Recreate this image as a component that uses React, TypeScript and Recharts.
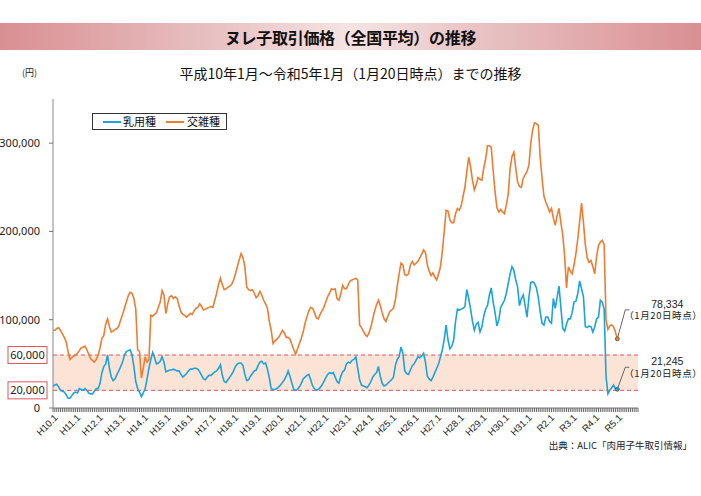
import React from 'react';
import { LineChart, Line, XAxis, YAxis, ReferenceArea, ReferenceLine, ReferenceDot } from 'recharts';

// 年次ラベル（各年1月）
const yearLabels = [
  'H10.1', 'H11.1', 'H12.1', 'H13.1', 'H14.1', 'H15.1', 'H16.1', 'H17.1', 'H18.1', 'H19.1',
  'H20.1', 'H21.1', 'H22.1', 'H23.1', 'H24.1', 'H25.1', 'H26.1', 'H27.1', 'H28.1', 'H29.1',
  'H30.1', 'H31.1', 'R2.1', 'R3.1', 'R4.1', 'R5.1',
];

// 乳用種 (円) 平成10年1月〜令和5年1月
const dairyPrices = [
  25000, 26000, 27000, 24000, 20000, 19000, 18000, 15000, 11000, 11000, 14000, 17000,
  18000, 17000, 22000, 21000, 20000, 22000, 20000, 17000, 16000, 16000, 19000, 22000,
  22000, 28000, 40000, 47000, 50000, 60000, 45000, 35000, 31000, 33000, 38000, 42000,
  47000, 52000, 60000, 64000, 65000, 66000, 60000, 47000, 30000, 22000, 18000, 13000,
  17000, 22000, 33000, 45000, 55000, 63000, 57000, 50000, 51000, 53000, 58000, 52000,
  41000, 42000, 43000, 43000, 44000, 43000, 42000, 42000, 38000, 35000, 37000, 39000,
  42000, 44000, 44000, 45000, 45000, 44000, 41000, 37000, 33000, 32000, 35000, 37000,
  37000, 39000, 41000, 42000, 45000, 49000, 37000, 30000, 29000, 32000, 35000, 38000,
  42000, 47000, 50000, 51000, 51000, 48000, 38000, 31000, 32000, 36000, 39000, 42000,
  43000, 48000, 52000, 53000, 50000, 51000, 44000, 34000, 22000, 21000, 21000, 22000,
  24000, 26000, 29000, 32000, 36000, 42000, 36000, 28000, 21000, 20000, 21000, 24000,
  28000, 33000, 35000, 37000, 38000, 32000, 25000, 22000, 20000, 21000, 23000, 26000,
  30000, 34000, 38000, 40000, 39000, 40000, 35000, 30000, 28000, 36000, 41000, 43000,
  50000, 52000, 51000, 54000, 55000, 58000, 45000, 32000, 26000, 25000, 24000, 23000,
  26000, 30000, 35000, 38000, 40000, 47000, 36000, 28000, 25000, 26000, 28000, 30000,
  32000, 35000, 48000, 55000, 58000, 69000, 62000, 42000, 39000, 38000, 43000, 48000,
  50000, 54000, 58000, 57000, 59000, 62000, 52000, 36000, 33000, 31000, 35000, 40000,
  45000, 50000, 58000, 66000, 78000, 94000, 77000, 67000, 70000, 77000, 98000, 112000,
  111000, 112000, 113000, 115000, 134000, 124000, 112000, 98000, 88000, 95000, 97000, 86000,
  92000, 104000, 112000, 116000, 128000, 136000, 120000, 108000, 93000, 100000, 114000, 118000,
  122000, 130000, 141000, 152000, 160000, 156000, 145000, 137000, 116000, 124000, 128000, 116000,
  103000, 125000, 142000, 143000, 141000, 136000, 125000, 109000, 96000, 94000, 103000, 103000,
  98000, 96000, 124000, 113000, 125000, 138000, 114000, 90000, 87000, 95000, 101000, 101000,
  108000, 120000, 121000, 130000, 144000, 135000, 126000, 92000, 91000, 93000, 92000, 86000,
  92000, 101000, 103000, 122000, 120000, 112000, 36000, 16000, 20000, 23000, 26000, 22000,
  21245,
];

// 交雑種 (円)
const crossPrices = [
  88000, 88000, 90000, 91000, 88000, 84000, 80000, 75000, 64000, 55000, 57000, 59000,
  60000, 62000, 65000, 68000, 69000, 70000, 66000, 61000, 56000, 54000, 52000, 55000,
  60000, 68000, 79000, 82000, 95000, 101000, 92000, 86000, 87000, 89000, 90000, 93000,
  100000, 106000, 113000, 120000, 127000, 131000, 130000, 124000, 112000, 66000, 64000, 34000,
  45000, 58000, 52000, 55000, 105000, 104000, 106000, 108000, 114000, 120000, 133000, 128000,
  107000, 118000, 126000, 127000, 124000, 126000, 124000, 116000, 109000, 106000, 105000, 103000,
  105000, 107000, 106000, 110000, 113000, 114000, 118000, 115000, 111000, 112000, 113000, 114000,
  115000, 114000, 122000, 130000, 140000, 147000, 140000, 134000, 135000, 137000, 138000, 140000,
  145000, 152000, 160000, 168000, 175000, 170000, 160000, 137000, 134000, 133000, 134000, 130000,
  125000, 127000, 132000, 128000, 122000, 118000, 113000, 98000, 88000, 73000, 76000, 78000,
  80000, 84000, 88000, 85000, 80000, 80000, 78000, 72000, 66000, 61000, 67000, 73000,
  79000, 86000, 96000, 103000, 110000, 114000, 113000, 108000, 102000, 101000, 106000, 110000,
  114000, 120000, 126000, 130000, 135000, 134000, 135000, 124000, 122000, 129000, 139000, 135000,
  135000, 140000, 144000, 145000, 146000, 147000, 145000, 94000, 91000, 87000, 83000, 81000,
  85000, 92000, 101000, 110000, 117000, 122000, 116000, 108000, 101000, 98000, 104000, 109000,
  111000, 113000, 122000, 138000, 152000, 164000, 162000, 151000, 150000, 152000, 162000, 166000,
  162000, 164000, 166000, 170000, 174000, 179000, 176000, 162000, 155000, 150000, 153000, 148000,
  145000, 152000, 160000, 178000, 200000, 224000, 223000, 213000, 210000, 210000, 220000, 226000,
  224000, 229000, 240000, 250000, 268000, 284000, 273000, 258000, 247000, 253000, 261000, 259000,
  258000, 272000, 282000, 297000, 297000, 295000, 269000, 245000, 227000, 222000, 225000, 222000,
  220000, 230000, 242000, 271000, 285000, 290000, 272000, 256000, 251000, 250000, 260000, 264000,
  268000, 275000, 300000, 315000, 323000, 322000, 320000, 284000, 260000, 240000, 233000, 228000,
  222000, 226000, 215000, 207000, 218000, 226000, 210000, 196000, 172000, 136000, 160000, 155000,
  152000, 162000, 175000, 192000, 212000, 232000, 210000, 185000, 170000, 165000, 167000, 160000,
  152000, 172000, 184000, 188000, 190000, 185000, 100000, 89000, 93000, 94000, 92000, 86000,
  78334,
];

const yTicks = [0, 20000, 60000, 100000, 200000, 300000];
const boxedTicks = [20000, 60000];
const bandRange = [20000, 60000];
const axisMonthCount = 312; // 軸は令和5年12月まで
const asOfNote = '（1月20日時点）';

const DAIRY = '#1ba3e0';
const CROSS = '#ed7d31';
const BAND_LINE = '#e8505e';

const rows = dairyPrices.map((v, i) => ({ m: i, dairy: v, cross: crossPrices[i] }));
const monthTicks = Array.from({ length: axisMonthCount }, (_, i) => i);
const lastIndex = dairyPrices.length - 1;

const jpFont = '"Noto Sans CJK JP", "Noto Sans", sans-serif';

const XTick = (props: any) => {
  const { x, y, payload } = props;
  const v = payload.value as number;
  if (v % 12 !== 0) return <g />;
  const label = yearLabels[v / 12];
  return (
    <g transform={`translate(${x + 3},${y + 4})`}>
      <text
        transform="rotate(-45)"
        textAnchor="end"
        dy="0.35em"
        fontSize={9.5}
        fontFamily='"Liberation Sans", Arial, sans-serif'
        fill="#222"
      >
        {label}
      </text>
    </g>
  );
};

const YTick = (props: any) => {
  const { x, y, payload } = props;
  const v = payload.value as number;
  const text = v.toLocaleString('en-US');
  if (boxedTicks.includes(v)) {
    return (
      <g>
        <rect x={x - 45} y={y - 8.5} width={39} height={17} fill="#fff" stroke="#e0555c" strokeWidth={1} />
        <text x={x - 25.5} y={y} dy="0.36em" textAnchor="middle" fontSize={11} fontFamily='"Noto Sans", sans-serif' fill="#222">
          {text}
        </text>
      </g>
    );
  }
  return (
    <g>
      <line x1={x - 4} x2={x} y1={y} y2={y} stroke="#777" />
      <text x={x - 13} y={y} dy="0.36em" textAnchor="end" fontSize={11} fontFamily='"Noto Sans", sans-serif' fill="#222">
        {text}
      </text>
    </g>
  );
};

const endNote = (value: number, color: string, rise: number) => (p: any) => {
  const { cx, cy } = p;
  const ex = cx + 8;
  const ey = cy - rise;
  return (
    <g>
      <polyline points={`${cx},${cy} ${ex},${ey} ${ex + 4},${ey}`} fill="none" stroke="#666" strokeWidth={1} />
      <circle cx={cx} cy={cy} r={2} fill={color} stroke="#555" strokeWidth={0.8} />
      <text x={cx + 50} y={ey - 6} dy="0.35em" textAnchor="middle" fontSize={10.5} fontFamily='"Liberation Sans", Arial, sans-serif' fill="#222">
        {value.toLocaleString('en-US')}
      </text>
      <text x={cx + 46} y={ey + 6} dy="0.35em" textAnchor="middle" fontSize={9.5} fontFamily={jpFont} fill="#222" letterSpacing={0.6}>
        {asOfNote}
      </text>
    </g>
  );
};

export default function App() {
  return (
    <div style={{ position: 'absolute', left: 0, top: 0, width: 701, height: 496, background: '#fff', overflow: 'hidden' }}>
      {/* タイトル帯 */}
      <div
        style={{
          position: 'absolute', left: 0, top: 23, width: 701, height: 27,
          background: 'linear-gradient(90deg, #d98f92 0%, #e8c0c1 30%, #f5e3e3 50%, #e8c0c1 70%, #d98f92 100%)',
          display: 'flex', alignItems: 'center', justifyContent: 'center',
          fontFamily: jpFont, fontWeight: 700, fontSize: 16, color: '#111', letterSpacing: -0.3,
        }}
      >
        ヌレ子取引価格（全国平均）の推移
      </div>
      <div style={{ position: 'absolute', left: 0, width: 701, top: 63, textAlign: 'center', fontFamily: jpFont, fontSize: 14, color: '#111', lineHeight: '20px' }}>
        平成10年1月～令和5年1月（1月20日時点）までの推移
      </div>
      <div style={{ position: 'absolute', left: 22, top: 66, fontFamily: jpFont, fontSize: 9, color: '#222', lineHeight: '14px' }}>
        (円)
      </div>

      <LineChart
        width={701}
        height={496}
        data={rows}
        margin={{ top: 99, right: 63, bottom: 48, left: 0 }}
        style={{ position: 'absolute', left: 0, top: 0 }}
      >
        <ReferenceArea y1={bandRange[0]} y2={bandRange[1]} fill="#fbe4d5" fillOpacity={1} stroke="none" />
        <ReferenceLine y={bandRange[0]} stroke={BAND_LINE} strokeDasharray="4 3" strokeWidth={1} />
        <ReferenceLine y={bandRange[1]} stroke={BAND_LINE} strokeDasharray="4 3" strokeWidth={1} />
        <XAxis
          type="number"
          dataKey="m"
          domain={[0, axisMonthCount - 1]}
          ticks={monthTicks}
          interval={0}
          height={40}
          tickSize={4}
          tickMargin={0}
          tickLine={{ stroke: '#666' }}
          axisLine={{ stroke: '#777' }}
          tick={<XTick />}
        />
        <YAxis
          type="number"
          domain={[0, 350000]}
          ticks={yTicks}
          interval={0}
          width={53}
          tickSize={0}
          tickMargin={0}
          tickLine={false}
          axisLine={{ stroke: '#888' }}
          tick={<YTick />}
        />
        <Line type="linear" dataKey="cross" stroke={CROSS} strokeWidth={1.6} dot={false} isAnimationActive={false} />
        <Line type="linear" dataKey="dairy" stroke={DAIRY} strokeWidth={1.6} dot={false} isAnimationActive={false} />
        <ReferenceDot x={lastIndex} y={crossPrices[lastIndex]} r={2} shape={endNote(crossPrices[lastIndex], CROSS, 29)} />
        <ReferenceDot x={lastIndex} y={dairyPrices[lastIndex]} r={2} shape={endNote(dairyPrices[lastIndex], DAIRY, 22)} />
      </LineChart>

      {/* 凡例 */}
      <div style={{ position: 'absolute', left: 92, top: 113, width: 135, height: 17, border: '1px solid #333', boxSizing: 'border-box', background: '#fff', fontFamily: jpFont, fontSize: 11, color: '#111' }}>
        <div style={{ position: 'absolute', left: 10, top: 6.5, width: 18, height: 2, background: DAIRY }} />
        <div style={{ position: 'absolute', left: 30, top: -1, lineHeight: '16px' }}>乳用種</div>
        <div style={{ position: 'absolute', left: 73, top: 6.5, width: 18, height: 2, background: CROSS }} />
        <div style={{ position: 'absolute', left: 94, top: -1, lineHeight: '16px' }}>交雑種</div>
      </div>

      <div style={{ position: 'absolute', right: 9, top: 438, fontFamily: jpFont, fontSize: 9.5, color: '#222', lineHeight: '14px' }}>
        出典：ALIC「肉用子牛取引情報」
      </div>
    </div>
  );
}
